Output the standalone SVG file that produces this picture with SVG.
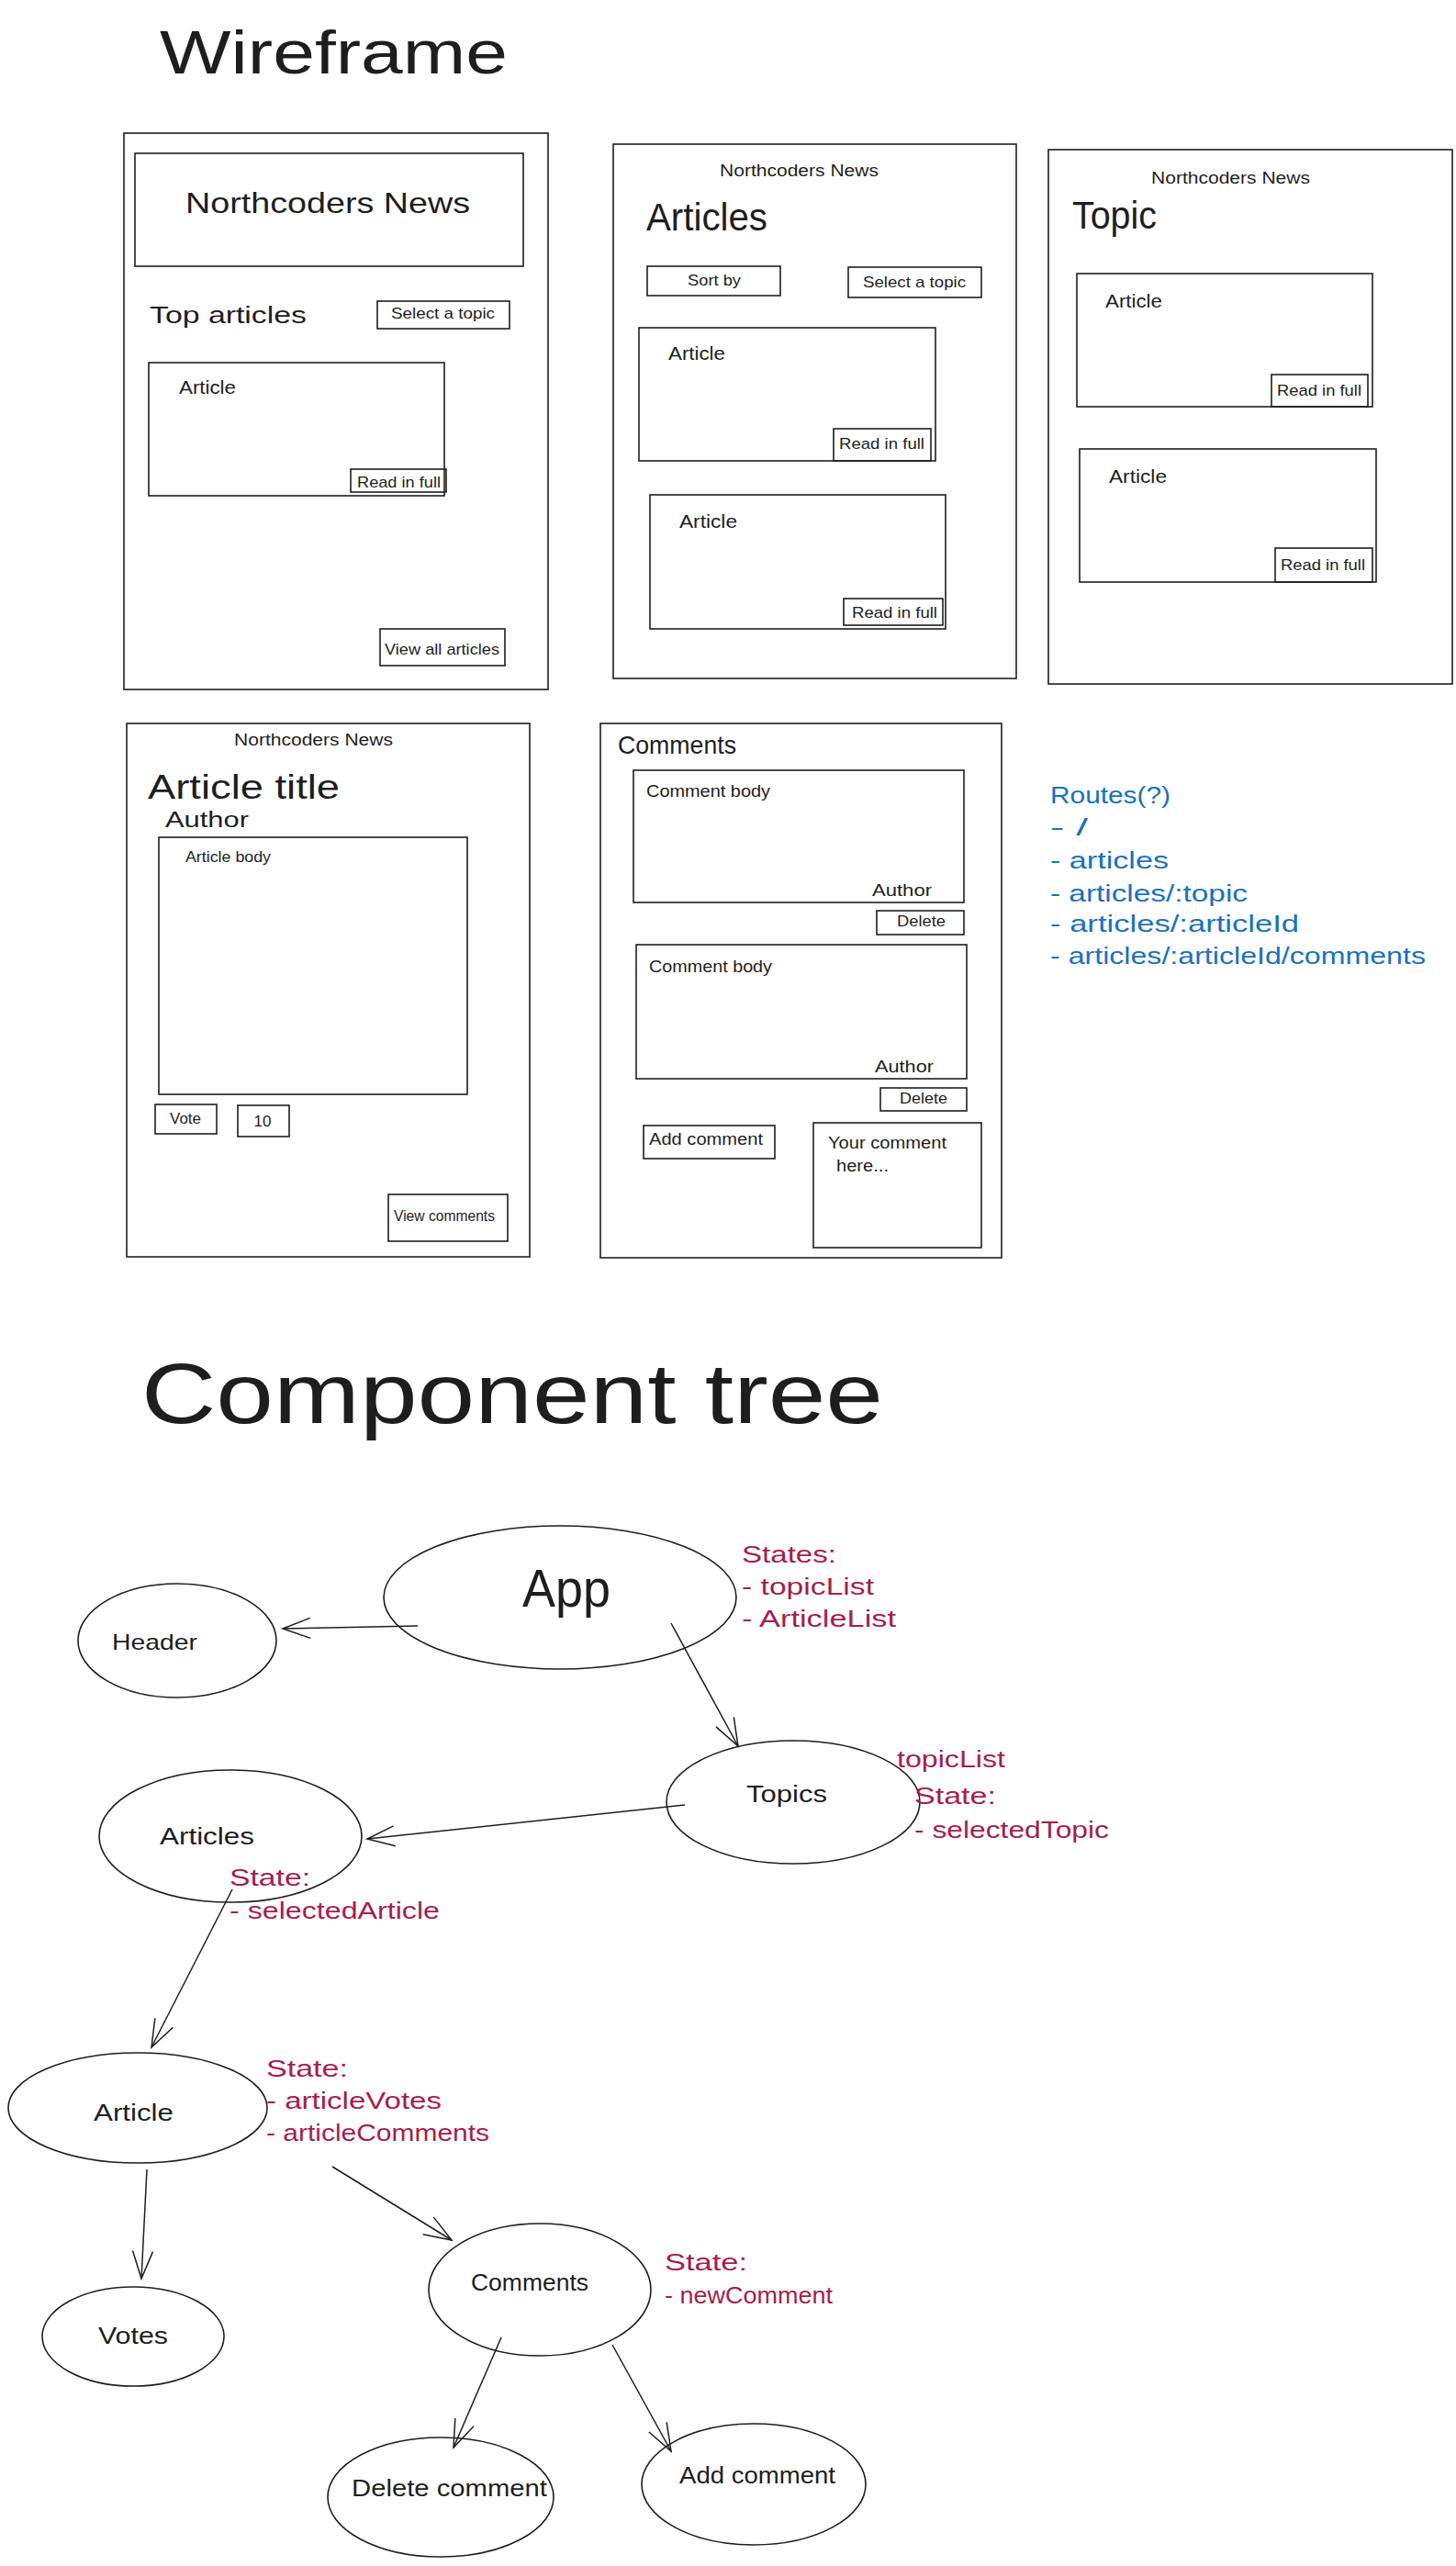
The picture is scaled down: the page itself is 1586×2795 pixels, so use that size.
<svg xmlns="http://www.w3.org/2000/svg" width="1586" height="2795" viewBox="0 0 1586 2795">
<style>
  .bg{fill:#ffffff}
  .box{fill:none;stroke:#1e1e1e;stroke-width:1.6}
  .node{fill:none;stroke:#1e1e1e;stroke-width:1.6}
  .edge{fill:none;stroke:#1e1e1e;stroke-width:1.5}
  text{font-family:"Liberation Sans","DejaVu Sans",sans-serif;fill:#1e1e1e}
  .t17{font-size:17px}
  .t19{font-size:19px}
  .t25{font-size:25px}
  .blue{fill:#1971c2;font-size:25px}
  .red{fill:#a61e4d;font-size:25px}
</style>
<defs>
  <marker id="arr" markerUnits="userSpaceOnUse" markerWidth="36" markerHeight="28" refX="32" refY="13" orient="auto">
    <path d="M2,2 L32,13 L2,24" fill="none" stroke="#1e1e1e" stroke-width="1.5"/>
  </marker>
</defs>
<rect class="bg" x="0" y="0" width="1586" height="2795"/>

<text x="174" y="80" style="font-size:66px" textLength="379" lengthAdjust="spacingAndGlyphs">Wireframe</text>

<g id="frame-home">
  <rect class="box" x="135" y="145" width="462" height="606"/>
  <rect class="box" x="147" y="167" width="423" height="123"/>
  <text x="202" y="232" style="font-size:32px" textLength="310" lengthAdjust="spacingAndGlyphs">Northcoders News</text>
  <text x="163" y="352" class="t25" textLength="171" lengthAdjust="spacingAndGlyphs">Top articles</text>
  <rect class="box" x="411" y="328" width="144" height="30"/>
  <text x="426" y="347" class="t17" textLength="113" lengthAdjust="spacingAndGlyphs">Select a topic</text>
  <rect class="box" x="162" y="395" width="322" height="145"/>
  <text x="195" y="429" style="font-size:20px" textLength="62" lengthAdjust="spacingAndGlyphs">Article</text>
  <rect class="box" x="382" y="511" width="104" height="25"/>
  <text x="389" y="531" class="t17" textLength="91" lengthAdjust="spacingAndGlyphs">Read in full</text>
  <rect class="box" x="414" y="685" width="136" height="40"/>
  <text x="419" y="713" class="t17" textLength="125" lengthAdjust="spacingAndGlyphs">View all articles</text>
</g>

<g id="frame-articles">
  <rect class="box" x="668" y="157" width="439" height="582"/>
  <text x="784" y="192" style="font-size:18px" textLength="173" lengthAdjust="spacingAndGlyphs">Northcoders News</text>
  <text x="704" y="251" style="font-size:42px" textLength="132" lengthAdjust="spacingAndGlyphs">Articles</text>
  <rect class="box" x="705" y="290" width="145" height="32"/>
  <text x="749" y="311" class="t17" textLength="58" lengthAdjust="spacingAndGlyphs">Sort by</text>
  <rect class="box" x="924" y="291" width="145" height="33"/>
  <text x="940" y="313" class="t17" textLength="112" lengthAdjust="spacingAndGlyphs">Select a topic</text>
  <rect class="box" x="696" y="357" width="323" height="145"/>
  <text x="728" y="392" style="font-size:20px" textLength="62" lengthAdjust="spacingAndGlyphs">Article</text>
  <rect class="box" x="908" y="467" width="106" height="35"/>
  <text x="914" y="489" class="t17" textLength="93" lengthAdjust="spacingAndGlyphs">Read in full</text>
  <rect class="box" x="708" y="539" width="322" height="146"/>
  <text x="740" y="575" style="font-size:20px" textLength="63" lengthAdjust="spacingAndGlyphs">Article</text>
  <rect class="box" x="919" y="652" width="108" height="29"/>
  <text x="928" y="673" class="t17" textLength="93" lengthAdjust="spacingAndGlyphs">Read in full</text>
</g>

<g id="frame-topic">
  <rect class="box" x="1142" y="163" width="440" height="582"/>
  <text x="1254" y="200" style="font-size:18px" textLength="173" lengthAdjust="spacingAndGlyphs">Northcoders News</text>
  <text x="1168" y="249" style="font-size:42px" textLength="92" lengthAdjust="spacingAndGlyphs">Topic</text>
  <rect class="box" x="1173" y="298" width="322" height="145"/>
  <text x="1204" y="335" style="font-size:20px" textLength="62" lengthAdjust="spacingAndGlyphs">Article</text>
  <rect class="box" x="1385" y="408" width="105" height="35"/>
  <text x="1391" y="431" class="t17" textLength="92" lengthAdjust="spacingAndGlyphs">Read in full</text>
  <rect class="box" x="1176" y="489" width="323" height="145"/>
  <text x="1208" y="526" style="font-size:20px" textLength="63" lengthAdjust="spacingAndGlyphs">Article</text>
  <rect class="box" x="1389" y="597" width="106" height="37"/>
  <text x="1395" y="621" class="t17" textLength="92" lengthAdjust="spacingAndGlyphs">Read in full</text>
</g>

<g id="frame-article">
  <rect class="box" x="138" y="788" width="439" height="581"/>
  <text x="255" y="812" style="font-size:18px" textLength="173" lengthAdjust="spacingAndGlyphs">Northcoders News</text>
  <text x="161" y="870" style="font-size:36px" textLength="209" lengthAdjust="spacingAndGlyphs">Article title</text>
  <text x="180" y="901" style="font-size:23px" textLength="91" lengthAdjust="spacingAndGlyphs">Author</text>
  <rect class="box" x="173" y="912" width="336" height="280"/>
  <text x="202" y="939" style="font-size:16px" textLength="93" lengthAdjust="spacingAndGlyphs">Article body</text>
  <rect class="box" x="169" y="1203" width="67" height="32"/>
  <text x="185" y="1224" class="t17" textLength="34" lengthAdjust="spacingAndGlyphs">Vote</text>
  <rect class="box" x="259" y="1204" width="56" height="34"/>
  <text x="286" y="1227" class="t17" text-anchor="middle">10</text>
  <rect class="box" x="423" y="1301" width="130" height="51"/>
  <text x="429" y="1330" style="font-size:16px" textLength="110" lengthAdjust="spacingAndGlyphs">View comments</text>
</g>

<g id="frame-comments">
  <rect class="box" x="654" y="788" width="437" height="582"/>
  <text x="673" y="821" style="font-size:28px" textLength="129" lengthAdjust="spacingAndGlyphs">Comments</text>
  <rect class="box" x="690" y="839" width="360" height="144"/>
  <text x="704" y="868" class="t19" textLength="135" lengthAdjust="spacingAndGlyphs">Comment body</text>
  <text x="950" y="976" class="t19" textLength="65" lengthAdjust="spacingAndGlyphs">Author</text>
  <rect class="box" x="955" y="992" width="95" height="26"/>
  <text x="977" y="1009" class="t17" textLength="53" lengthAdjust="spacingAndGlyphs">Delete</text>
  <rect class="box" x="693" y="1029" width="360" height="146"/>
  <text x="707" y="1059" class="t19" textLength="134" lengthAdjust="spacingAndGlyphs">Comment body</text>
  <text x="953" y="1168" class="t19" textLength="64" lengthAdjust="spacingAndGlyphs">Author</text>
  <rect class="box" x="959" y="1185" width="94" height="25"/>
  <text x="980" y="1202" class="t17" textLength="52" lengthAdjust="spacingAndGlyphs">Delete</text>
  <rect class="box" x="701" y="1226" width="143" height="36"/>
  <text x="707" y="1247" style="font-size:18px" textLength="124" lengthAdjust="spacingAndGlyphs">Add comment</text>
  <rect class="box" x="886" y="1223" width="183" height="136"/>
  <text x="902" y="1251" style="font-size:18px" textLength="129" lengthAdjust="spacingAndGlyphs">Your comment</text>
  <text x="911" y="1276" style="font-size:18px" textLength="57" lengthAdjust="spacingAndGlyphs">here...</text>
</g>

<g id="routes">
  <text x="1144" y="875" class="blue" textLength="131" lengthAdjust="spacingAndGlyphs">Routes(?)</text>
  <text x="1144" y="910" class="blue" textLength="41" lengthAdjust="spacingAndGlyphs">- /</text>
  <text x="1144" y="946" class="blue" textLength="129" lengthAdjust="spacingAndGlyphs">- articles</text>
  <text x="1144" y="982" class="blue" textLength="215" lengthAdjust="spacingAndGlyphs">- articles/:topic</text>
  <text x="1144" y="1015" class="blue" textLength="271" lengthAdjust="spacingAndGlyphs">- articles/:articleId</text>
  <text x="1144" y="1050" class="blue" textLength="409" lengthAdjust="spacingAndGlyphs">- articles/:articleId/comments</text>
</g>

<text x="154" y="1550" style="font-size:92px" textLength="808" lengthAdjust="spacingAndGlyphs">Component tree</text>

<g id="connectors">
  <line class="edge" x1="455" y1="1771" x2="308" y2="1774" marker-end="url(#arr)"/>
  <line class="edge" x1="731" y1="1768" x2="804" y2="1902" marker-end="url(#arr)"/>
  <line class="edge" x1="746" y1="1966" x2="400" y2="2003" marker-end="url(#arr)"/>
  <line class="edge" x1="253" y1="2058" x2="165" y2="2230" marker-end="url(#arr)"/>
  <line class="edge" x1="160" y1="2363" x2="154" y2="2482" marker-end="url(#arr)"/>
  <line class="edge" x1="362" y1="2360" x2="492" y2="2440" marker-end="url(#arr)"/>
  <line class="edge" x1="546" y1="2546" x2="494" y2="2666" marker-end="url(#arr)"/>
  <line class="edge" x1="667" y1="2554" x2="731" y2="2670" marker-end="url(#arr)"/>
</g>

<g id="node-app">
  <ellipse class="node" cx="610" cy="1740" rx="192" ry="78"/>
  <text x="569" y="1750" style="font-size:58px" textLength="96" lengthAdjust="spacingAndGlyphs">App</text>
  <text x="808" y="1702" class="red" textLength="103" lengthAdjust="spacingAndGlyphs">States:</text>
  <text x="808" y="1737" class="red" textLength="144" lengthAdjust="spacingAndGlyphs">- topicList</text>
  <text x="808" y="1772" class="red" textLength="168" lengthAdjust="spacingAndGlyphs">- ArticleList</text>
</g>

<g id="node-header">
  <ellipse class="node" cx="193" cy="1787" rx="108" ry="62"/>
  <text x="122" y="1797" style="font-size:24px" textLength="93" lengthAdjust="spacingAndGlyphs">Header</text>
</g>

<g id="node-topics">
  <ellipse class="node" cx="864" cy="1963" rx="138" ry="67"/>
  <text x="813" y="1963" class="t25" textLength="88" lengthAdjust="spacingAndGlyphs">Topics</text>
  <text x="977" y="1925" class="red" textLength="118" lengthAdjust="spacingAndGlyphs">topicList</text>
  <text x="996" y="1965" class="red" textLength="89" lengthAdjust="spacingAndGlyphs">State:</text>
  <text x="996" y="2002" class="red" textLength="212" lengthAdjust="spacingAndGlyphs">- selectedTopic</text>
</g>

<g id="node-articles">
  <ellipse class="node" cx="251" cy="2000" rx="143" ry="72"/>
  <text x="174" y="2009" class="t25" textLength="103" lengthAdjust="spacingAndGlyphs">Articles</text>
  <text x="250" y="2054" class="red" textLength="88" lengthAdjust="spacingAndGlyphs">State:</text>
  <text x="250" y="2090" class="red" textLength="229" lengthAdjust="spacingAndGlyphs">- selectedArticle</text>
</g>

<g id="node-article">
  <ellipse class="node" cx="150" cy="2296" rx="141" ry="60"/>
  <text x="102" y="2310" class="t25" textLength="87" lengthAdjust="spacingAndGlyphs">Article</text>
  <text x="290" y="2262" class="red" textLength="89" lengthAdjust="spacingAndGlyphs">State:</text>
  <text x="290" y="2297" class="red" textLength="191" lengthAdjust="spacingAndGlyphs">- articleVotes</text>
  <text x="290" y="2332" class="red" textLength="243" lengthAdjust="spacingAndGlyphs">- articleComments</text>
</g>

<g id="node-votes">
  <ellipse class="node" cx="145" cy="2545" rx="99" ry="54"/>
  <text x="107" y="2553" class="t25" textLength="76" lengthAdjust="spacingAndGlyphs">Votes</text>
</g>

<g id="node-comments">
  <ellipse class="node" cx="588" cy="2494" rx="121" ry="72"/>
  <text x="513" y="2495" class="t25" textLength="128" lengthAdjust="spacingAndGlyphs">Comments</text>
  <text x="724" y="2473" class="red" textLength="90" lengthAdjust="spacingAndGlyphs">State:</text>
  <text x="724" y="2509" class="red" textLength="183" lengthAdjust="spacingAndGlyphs">- newComment</text>
</g>

<g id="node-delete-comment">
  <ellipse class="node" cx="480" cy="2720" rx="123" ry="65"/>
  <text x="383" y="2719" style="font-size:26px" textLength="213" lengthAdjust="spacingAndGlyphs">Delete comment</text>
</g>

<g id="node-add-comment">
  <ellipse class="node" cx="821" cy="2706" rx="122" ry="66"/>
  <text x="740" y="2705" style="font-size:26px" textLength="170" lengthAdjust="spacingAndGlyphs">Add comment</text>
</g>
</svg>
